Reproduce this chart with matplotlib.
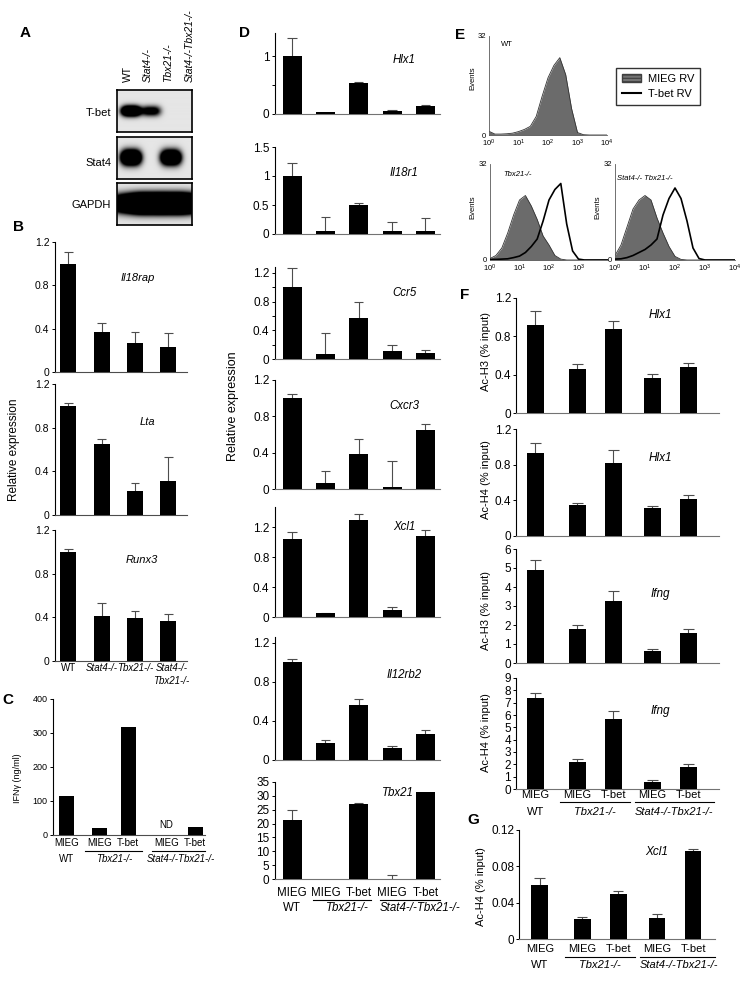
import numpy as np
import matplotlib
matplotlib.use('Agg')
import matplotlib.pyplot as plt
from matplotlib.patches import Patch
from matplotlib.lines import Line2D
from matplotlib.transforms import blended_transform_factory

plt.rcParams['font.family'] = ['Liberation Sans', 'DejaVu Sans']
plt.rcParams['hatch.linewidth'] = 0.8

# ---------------- data ----------------
# A: western blot band strength per lane
blot_lanes = ['WT', 'Stat4-/-', 'Tbx21-/-', 'Stat4-/-Tbx21-/-']
blot_tbet = [2.6, 1.3, 0.0, 0.0]
blot_stat4 = [2.8, 0.0, 2.6, 0.0]
blot_gapdh = [2.6, 2.6, 2.6, 2.6]

# B: relative expression
b_labels = ['WT', 'Stat4-/-', 'Tbx21-/-', 'Stat4-/-']
b_il18rap = [1.0, 0.37, 0.27, 0.23]
b_il18rap_err = [0.11, 0.08, 0.10, 0.13]
b_lta = [1.0, 0.65, 0.22, 0.31]
b_lta_err = [0.03, 0.05, 0.07, 0.22]
b_runx3 = [1.0, 0.41, 0.39, 0.37]
b_runx3_err = [0.03, 0.12, 0.07, 0.06]

# C: IFN-gamma
c_labels = ['MIEG', 'MIEG', 'T-bet', 'MIEG', 'T-bet']
c_ifng = [115, 20, 317, 0, 25]

# D: relative expression (MIEG WT, MIEG/T-bet Tbx21-/-, MIEG/T-bet Stat4-/-Tbx21-/-)
d_hlx1 = [1.0, 0.04, 0.53, 0.045, 0.14]
d_hlx1_err = [0.31, 0.0, 0.02, 0.03, 0.02]
d_il18r1 = [1.0, 0.05, 0.5, 0.05, 0.05]
d_il18r1_err = [0.22, 0.25, 0.03, 0.16, 0.22]
d_ccr5 = [1.0, 0.07, 0.57, 0.11, 0.08]
d_ccr5_err = [0.27, 0.29, 0.22, 0.09, 0.05]
d_cxcr3 = [1.0, 0.07, 0.39, 0.02, 0.65]
d_cxcr3_err = [0.05, 0.13, 0.16, 0.29, 0.07]
d_xcl1 = [1.04, 0.05, 1.30, 0.10, 1.08]
d_xcl1_err = [0.09, 0.01, 0.07, 0.03, 0.08]
d_il12rb2 = [1.0, 0.17, 0.56, 0.12, 0.27]
d_il12rb2_err = [0.03, 0.03, 0.06, 0.02, 0.04]
d_tbx21 = [21.4, 0.0, 27.2, 0.0, 31.4]
d_tbx21_err = [3.5, 0.0, 0.3, 1.6, 0.0]

# E: flow histograms, counts read at log10 positions
e_decades = [0.0, 0.2, 0.4, 0.6, 0.8, 1.0, 1.2, 1.4, 1.6, 1.8, 2.0,
             2.2, 2.4, 2.6, 2.8, 3.0, 3.2, 3.4, 3.6, 3.8, 4.0]
e_wt_mieg = [1.2, 0.3, 0.3, 0.4, 0.6, 1.1, 1.8, 2.8, 6.0, 12.5, 18.5,
             22.5, 25.0, 19.5, 8.5, 0.8, 0.1, 0, 0, 0, 0]
e_tbx_mieg = [0.5, 1.5, 4.0, 9.0, 15.0, 20.0, 21.5, 18.0, 13.5, 8.0, 5.0,
              1.5, 0.3, 0, 0, 0, 0, 0, 0, 0, 0]
e_tbx_tbet = [0.2, 0.2, 0.3, 0.4, 0.8, 1.3, 2.5, 4.5, 7.0, 13.0, 20.0,
              23.5, 25.5, 12.0, 3.0, 0.3, 0, 0, 0, 0, 0]
e_dko_mieg = [1.5, 5.0, 11.0, 17.0, 20.0, 21.5, 20.0, 14.0, 9.0, 4.5, 1.2,
              0.2, 0, 0, 0, 0, 0, 0, 0, 0, 0]
e_dko_tbet = [0.3, 0.4, 0.8, 1.5, 2.5, 3.5, 5.0, 7.0, 15.0, 20.5, 24.0,
              20.5, 13.0, 4.0, 0.5, 0, 0, 0, 0, 0, 0]

# F / G: ChIP (% input)
f_labels = ['MIEG', 'MIEG', 'T-bet', 'MIEG', 'T-bet']
f_hlx1_h3 = [0.92, 0.46, 0.88, 0.37, 0.48]
f_hlx1_h3_err = [0.14, 0.05, 0.08, 0.04, 0.04]
f_hlx1_h4 = [0.93, 0.35, 0.82, 0.31, 0.42]
f_hlx1_h4_err = [0.11, 0.02, 0.15, 0.03, 0.04]
f_ifng_h3 = [4.9, 1.8, 3.25, 0.63, 1.6]
f_ifng_h3_err = [0.5, 0.2, 0.55, 0.12, 0.2]
f_ifng_h4 = [7.4, 2.2, 5.7, 0.55, 1.75]
f_ifng_h4_err = [0.4, 0.25, 0.65, 0.15, 0.3]
g_xcl1 = [0.059, 0.0215, 0.049, 0.0233, 0.0967]
g_xcl1_err = [0.008, 0.0025, 0.0036, 0.0047, 0.0023]

# ---------------- figure ----------------
W, H = 750, 981
fig = plt.figure(figsize=(W / 100, H / 100), dpi=100)


def add_ax(x0, y0, x1, y1):
    return fig.add_axes([x0 / W, 1 - y1 / H, (x1 - x0) / W, (y1 - y0) / H])


def ftext(x, y, s, **kw):
    fig.text(x / W, 1 - y / H, s, **kw)


def bar_axes(ax, pos, vals, errs, width, ylim, yticks, yticklabels=None, fs=8, cap=0.13):
    pos = np.asarray(pos, float)
    vals = np.asarray(vals, float)
    errs = np.asarray(errs, float)
    ax.bar(pos, vals, width, color='black', zorder=3)
    m = errs > 0
    top = vals + errs
    ax.vlines(pos[m], vals[m], top[m], color='0.3', lw=0.8, zorder=2)
    ax.hlines(top[m], pos[m] - cap, pos[m] + cap, color='0.3', lw=0.8, zorder=2)
    ax.set_ylim(*ylim)
    ax.set_yticks(yticks)
    if yticklabels is not None:
        ax.set_yticklabels(yticklabels)
    for s in ['top', 'right']:
        ax.spines[s].set_visible(False)
    ax.spines['left'].set_linewidth(0.8)
    ax.spines['bottom'].set_linewidth(0.8)
    ax.spines['bottom'].set_color('0.45')
    ax.tick_params(axis='x', length=0, labelbottom=False)
    ax.tick_params(axis='y', length=2.5, width=0.7, labelsize=fs, pad=1.5)
    ax.patch.set_alpha(0)


def under_text(ax, x, ypx, s, ha='center', **kw):
    tr = blended_transform_factory(ax.transData, fig.transFigure)
    ax.text(x, 1 - ypx / H, s, transform=tr, ha=ha, va='center', clip_on=False, **kw)


def under_line(ax, x0, x1, ypx):
    tr = blended_transform_factory(ax.transData, fig.transFigure)
    ax.plot([x0, x1], [1 - ypx / H] * 2, transform=tr, color='black', lw=0.8, clip_on=False)


# panel letters
for letter, (x, y) in {'A': (25, 33), 'B': (18, 227), 'C': (8, 700), 'D': (245, 33),
                       'E': (460, 35), 'F': (465, 295), 'G': (473, 820)}.items():
    ftext(x, y, letter, fontsize=11, fontweight='bold', ha='center', va='center')

# ---------------- A ----------------
def blot(ax, intens, height, width):
    xs = np.linspace(-0.7, 3.05, 300)
    ys = np.linspace(0, 1, 80)
    X, Y = np.meshgrid(xs, ys)
    img = np.full(X.shape, 0.1)
    for i, v in enumerate(intens):
        img += v * np.exp(-np.abs((X - i) / width) ** 3 - ((Y - 0.5) / height) ** 2)
    ax.imshow(np.clip(img, 0, 1), cmap='gray_r', vmin=0, vmax=1, origin='lower',
              extent=(-0.7, 3.05, 0, 1), aspect='auto', interpolation='bilinear')
    ax.set_xticks([])
    ax.set_yticks([])
    for s in ax.spines.values():
        s.set_linewidth(1.2)


blot(add_ax(117, 90, 192, 132), blot_tbet, 0.12, 0.48)
blot(add_ax(117, 137, 192, 179), blot_stat4, 0.17, 0.5)
blot(add_ax(117, 183, 192, 225), blot_gapdh, 0.2, 1.1)
for name, y in [('T-bet', 113), ('Stat4', 163), ('GAPDH', 205)]:
    ftext(111, y, name, fontsize=8, ha='right', va='center')
for i, (lab, x) in enumerate(zip(blot_lanes, [128, 148, 168, 190])):
    ftext(x, 82, lab, fontsize=7.5, rotation=90, ha='center', va='bottom',
          style='normal' if i == 0 else 'italic')

# ---------------- B ----------------
b_pos = [0, 1, 2, 3]
b_sets = [(b_il18rap, b_il18rap_err, 'Il18rap', 242, 372, (138, 278)),
          (b_lta, b_lta_err, 'Lta', 384, 515, (147, 422)),
          (b_runx3, b_runx3_err, 'Runx3', 530, 661, (142, 560))]
for vals, errs, gene, y0, y1, gpos in b_sets:
    ax = add_ax(55, y0, 187, y1)
    bar_axes(ax, b_pos, vals, errs, 0.48, (0, 1.2), [0, 0.4, 0.8, 1.2],
             ['0', '0.4', '0.8', '1.2'], fs=7.5)
    ax.spines['bottom'].set_color('0.3')
    ax.set_xlim(-0.4, 3.56)
    ftext(gpos[0], gpos[1], gene, fontsize=8, style='italic', ha='center', va='center')
for i, lab in enumerate(b_labels):
    under_text(ax, b_pos[i] + (0.1 if i == 3 else 0), 668, lab, fontsize=7,
               style='normal' if i == 0 else 'italic')
under_text(ax, b_pos[3] + 0.1, 681, 'Tbx21-/-', fontsize=7, style='italic')
ftext(14, 450, 'Relative expression', fontsize=8.5, rotation=90, ha='center', va='center')

# ---------------- C ----------------
c_pos = [0, 1, 1.88, 3.03, 3.9]
ax = add_ax(53, 699, 205, 835)
bar_axes(ax, c_pos, c_ifng, [0] * 5, 0.45, (0, 400), [0, 100, 200, 300, 400], fs=6.5)
ax.spines['bottom'].set_color('0.3')
ax.set_xlim(-0.4, 4.2)
ax.text(c_pos[3], 14, 'ND', fontsize=7, ha='center', va='bottom')
for p, lab in zip(c_pos, c_labels):
    under_text(ax, p, 843, lab, fontsize=7)
under_line(ax, c_pos[1] - 0.42, c_pos[2] + 0.42, 851)
under_line(ax, c_pos[3] - 0.42, 4.2, 851)
under_text(ax, c_pos[0], 859, 'WT', fontsize=7)
under_text(ax, (c_pos[1] + c_pos[2]) / 2, 859, 'Tbx21-/-', fontsize=7, style='italic')
under_text(ax, (c_pos[3] + c_pos[4]) / 2, 859, 'Stat4-/-Tbx21-/-', fontsize=7, style='italic')
ftext(18, 778, 'IFNγ (ng/ml)', fontsize=6.5, rotation=90, ha='center', va='center')

# ---------------- D ----------------
d_pos = [0, 1, 2, 3, 4]
r12 = ['0', '0.4', '0.8', '1.2']
d_sets = [(d_hlx1, d_hlx1_err, 'Hlx1', 33, 114, (0, 1.4), [0, 0.5, 1], ['0', '', '1'], 60),
          (d_il18r1, d_il18r1_err, 'Il18r1', 147, 234, (0, 1.5), [0, 0.5, 1, 1.5],
           ['0', '0.5', '1', '1.5'], 173),
          (d_ccr5, d_ccr5_err, 'Ccr5', 267, 359, (0, 1.28), [0, 0.4, 0.8, 1.2], r12, 293),
          (d_cxcr3, d_cxcr3_err, 'Cxcr3', 380, 489, (0, 1.2), [0, 0.4, 0.8, 1.2], r12, 406),
          (d_xcl1, d_xcl1_err, 'Xcl1', 507, 617, (0, 1.47), [0, 0.4, 0.8, 1.2], r12, 527),
          (d_il12rb2, d_il12rb2_err, 'Il12rb2', 637, 760, (0, 1.26), [0, 0.4, 0.8, 1.2], r12, 675),
          (d_tbx21, d_tbx21_err, 'Tbx21', 782, 879, (0, 35), [0, 5, 10, 15, 20, 25, 30, 35],
           None, 793)]
for vals, errs, gene, y0, y1, ylim, ticks, tlabs, gy in d_sets:
    ax = add_ax(275, y0, 440, y1)
    bar_axes(ax, d_pos, vals, errs, 0.57, ylim, ticks, tlabs, fs=8.5, cap=0.14)
    ax.set_xlim(-0.51, 4.44)
    if gene == 'Ccr5':
        ax.set_yticks([0.2, 0.6, 1.0], minor=True)
        ax.tick_params(axis='y', which='minor', length=2.5, width=0.7)
    gx = 398 if gene == 'Tbx21' else 404
    ftext(gx, gy, gene, fontsize=8.3, style='italic', ha='center', va='center')
for p, lab in zip(d_pos, f_labels):
    under_text(ax, p, 893, lab, fontsize=8.3)
under_line(ax, 0.63, 2.37, 900)
under_line(ax, 2.63, 4.44, 900)
under_text(ax, 0, 908, 'WT', fontsize=8.3)
under_text(ax, 1.65, 908, 'Tbx21-/-', fontsize=8.3, style='italic')
under_text(ax, 2.62, 908, 'Stat4-/-Tbx21-/-', ha='left', fontsize=8.3, style='italic')
ftext(233, 406, 'Relative expression', fontsize=9, rotation=90, ha='center', va='center')

# ---------------- E ----------------
e_x = [10 ** d for d in e_decades]


def flow_axes(ax, grey, black=None, nticks=5):
    ax.fill_between(e_x, grey, color='0.42', lw=0, zorder=1)
    ax.plot(e_x, grey, color='0.2', lw=0.6, zorder=2)
    if black is not None:
        ax.plot(e_x, black, color='black', lw=1.2, zorder=3)
    ax.set_xscale('log')
    ax.set_xlim(1, 1e4)
    ax.set_ylim(0, 32)
    ax.set_xticks([1, 10, 100, 1000, 10000][:nticks])
    ax.xaxis.set_minor_locator(matplotlib.ticker.NullLocator())
    ax.set_yticks([0, 32])
    ax.tick_params(length=0, labelsize=5.5, pad=2)
    for s in ['top', 'right']:
        ax.spines[s].set_visible(False)
    for s in ['left', 'bottom']:
        ax.spines[s].set_linewidth(0.6)
        ax.spines[s].set_color('0.35')
    ax.patch.set_alpha(0)


ax = add_ax(489, 36, 607, 135)
flow_axes(ax, e_wt_mieg)
ax = add_ax(490, 164, 608, 260)
flow_axes(ax, e_tbx_mieg, e_tbx_tbet, nticks=4)
ax = add_ax(615, 164, 735, 260)
flow_axes(ax, e_dko_mieg, e_dko_tbet)
ftext(507, 44, 'WT', fontsize=5.5, ha='center', va='center')
ftext(517, 175, 'Tbx21-/-', fontsize=5.5, style='italic', ha='center', va='center')
ftext(645, 178, 'Stat4-/- Tbx21-/-', fontsize=5.5, style='italic', ha='center', va='center')
for x, y in [(473, 78), (473, 207), (598, 207)]:
    ftext(x, y, 'Events', fontsize=5.5, rotation=90, ha='center', va='center')
handles = [Patch(facecolor='0.45', edgecolor='0.25', hatch='-----'),
           Line2D([0], [0], color='black', lw=1.5)]
leg = fig.legend(handles, ['MIEG RV', 'T-bet RV'], loc='upper left',
                 bbox_to_anchor=(616 / W, 1 - 68 / H), fontsize=8, frameon=True,
                 fancybox=False, edgecolor='black', handlelength=1.7, borderpad=0.55,
                 labelspacing=0.45, handletextpad=0.6, borderaxespad=0)
leg.get_frame().set_linewidth(1.0)

# ---------------- F / G ----------------
f_pos = [0, 1.17, 2.17, 3.25, 4.25]
f_sets = [(f_hlx1_h3, f_hlx1_h3_err, 'Hlx1', 'Ac-H3 (% input)', 298, 413, (0, 1.2),
           [0, 0.4, 0.8, 1.2], r12, 315, 351),
          (f_hlx1_h4, f_hlx1_h4_err, 'Hlx1', 'Ac-H4 (% input)', 429, 536, (0, 1.2),
           [0, 0.4, 0.8, 1.2], r12, 458, 480),
          (f_ifng_h3, f_ifng_h3_err, 'Ifng', 'Ac-H3 (% input)', 549, 663, (0, 6),
           [0, 1, 2, 3, 4, 5, 6], None, 594, 610),
          (f_ifng_h4, f_ifng_h4_err, 'Ifng', 'Ac-H4 (% input)', 678, 789, (0, 9),
           [0, 1, 2, 3, 4, 5, 6, 7, 8, 9], None, 711, 733)]
for vals, errs, gene, ylab, y0, y1, ylim, ticks, tlabs, gy, ly in f_sets:
    ax = add_ax(516, y0, 719, y1)
    bar_axes(ax, f_pos, vals, errs, 0.47, ylim, ticks, tlabs, fs=8.5, cap=0.15)
    ax.tick_params(axis='y', pad=1)
    ax.set_xlim(-0.53, 5.1)
    ftext(660, gy, gene, fontsize=8.5, style='italic', ha='center', va='center')
    ftext(486, ly, ylab, fontsize=8, rotation=90, ha='center', va='center')


def chip_xlabels(ax, y1, yl, y2, xend):
    for p, lab in zip(f_pos, f_labels):
        under_text(ax, p, y1, lab, fontsize=8)
    under_line(ax, f_pos[1] - 0.47, f_pos[2] + 0.47, yl)
    under_line(ax, f_pos[3] - 0.47, xend, yl)
    under_text(ax, f_pos[0], y2, 'WT', fontsize=8)
    under_text(ax, (f_pos[1] + f_pos[2]) / 2, y2, 'Tbx21-/-', fontsize=8, style='italic')
    under_text(ax, (f_pos[3] + f_pos[4]) / 2 + 0.1, y2, 'Stat4-/-Tbx21-/-', fontsize=8,
               style='italic')


chip_xlabels(ax, 795, 802, 812, 4.95)

ax = add_ax(519, 830, 715, 939)
bar_axes(ax, f_pos, g_xcl1, g_xcl1_err, 0.47, (0, 0.12), [0, 0.04, 0.08, 0.12],
         ['0', '0.04', '0.08', '0.12'], fs=8.5, cap=0.15)
ax.tick_params(axis='y', pad=1)
ax.set_xlim(-0.58, 4.86)
ftext(657, 852, 'Xcl1', fontsize=8.5, style='italic', ha='center', va='center')
ftext(481, 887, 'Ac-H4 (% input)', fontsize=8, rotation=90, ha='center', va='center')
chip_xlabels(ax, 949, 957, 965, 4.86)

fig.savefig('out.png', dpi=100, facecolor='white')
